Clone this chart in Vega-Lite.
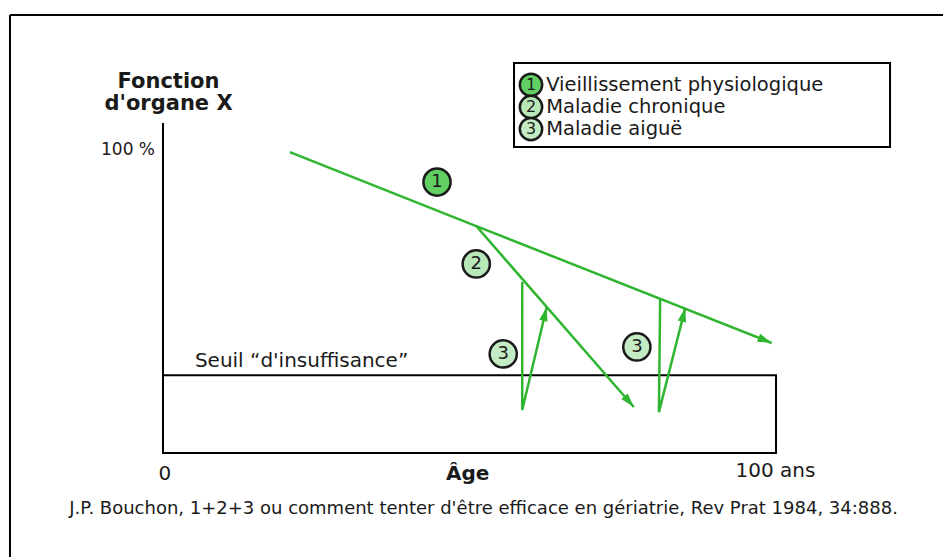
{
  "$schema": "https://vega.github.io/schema/vega-lite/v6.json",
  "width": 943,
  "height": 557,
  "autosize": "none",
  "padding": 0,
  "background": "white",
  "config": {"view": {"stroke": null}, "text": {"font": "DejaVu Sans"}},
  "datasets": {
    "segments": [
      {"part": "frame", "x": -24.96, "y": 144.55, "x2": 127.24, "y2": 144.55},
      {"part": "frame", "x": -24.96, "y": 144.55, "x2": -24.96, "y2": -34.32},
      {"part": "axis", "x": 0, "y": 0, "x2": 0, "y2": 108.9}
    ],
    "boxes": [
      {"part": "seuil", "x": 0, "y": 0, "x2": 100, "y2": 25.7},
      {"part": "legend", "x": 57.26, "y": 101.0, "x2": 118.6, "y2": 128.7}
    ],
    "curves": [
      {"series": "vieillissement", "step": 1, "x": 20.7, "y": 99.3},
      {"series": "vieillissement", "step": 2, "x": 51.1, "y": 74.9},
      {"series": "vieillissement", "step": 3, "x": 99.3, "y": 36.3},
      {"series": "chronique", "step": 1, "x": 51.1, "y": 74.9},
      {"series": "chronique", "step": 2, "x": 76.8, "y": 15.2},
      {"series": "aigue A", "step": 1, "x": 58.6, "y": 56.4},
      {"series": "aigue A", "step": 2, "x": 58.6, "y": 14.2},
      {"series": "aigue A", "step": 3, "x": 62.6, "y": 48.2},
      {"series": "aigue B", "step": 1, "x": 81.1, "y": 50.8},
      {"series": "aigue B", "step": 2, "x": 80.9, "y": 13.5},
      {"series": "aigue B", "step": 3, "x": 85.2, "y": 47.9}
    ],
    "tips": [
      {"series": "vieillissement", "x": 99.3, "y": 36.3},
      {"series": "chronique", "x": 76.8, "y": 15.2},
      {"series": "aigue A", "x": 62.6, "y": 48.2},
      {"series": "aigue B", "x": 85.2, "y": 47.9}
    ],
    "markers": [
      {"where": "chart", "n": "1", "x": 44.7, "y": 89.4},
      {"where": "chart", "n": "2", "x": 51.1, "y": 62.4},
      {"where": "chart", "n": "3", "x": 55.5, "y": 32.7},
      {"where": "chart", "n": "3", "x": 77.3, "y": 35.0},
      {"where": "legend", "n": "1", "x": 60.03, "y": 121.5},
      {"where": "legend", "n": "2", "x": 60.03, "y": 114.2},
      {"where": "legend", "n": "3", "x": 60.03, "y": 106.9}
    ],
    "labels": [
      {"role": "ytitle", "text": "Fonction", "x": 0.9, "y": 122.6},
      {"role": "ytitle", "text": "d'organe X", "x": 0.9, "y": 115.3},
      {"role": "ytick", "text": "100 %", "x": -1.3, "y": 100},
      {"role": "xtick", "text": "0", "x": 0.3, "y": -7.0},
      {"role": "xtick", "text": "100 ans", "x": 99.9, "y": -5.9},
      {"role": "xtitle", "text": "Âge", "x": 49.7, "y": -7.0},
      {"role": "seuil", "text": "Seuil “d'insuffisance”", "x": 5.2, "y": 30.5},
      {"role": "source", "text": "J.P. Bouchon, 1+2+3 ou comment tenter d'être efficace en gériatrie, Rev Prat 1984, 34:888.", "x": 52.3, "y": -18.5},
      {"role": "legend", "text": "Vieillissement physiologique", "x": 62.5, "y": 121.5},
      {"role": "legend", "text": "Maladie chronique", "x": 62.5, "y": 114.2},
      {"role": "legend", "text": "Maladie aiguë", "x": 62.5, "y": 106.9}
    ]
  },
  "encoding": {
    "x": {"field": "x", "type": "quantitative", "scale": {"domain": [-26.59, 127.24], "nice": false, "zero": false}, "axis": null},
    "y": {"field": "y", "type": "quantitative", "scale": {"domain": [-34.32, 149.5], "nice": false, "zero": false}, "axis": null}
  },
  "layer": [
    {
      "data": {"name": "segments"},
      "mark": {"type": "rule", "color": "black", "strokeWidth": 2},
      "encoding": {"x2": {"field": "x2"}, "y2": {"field": "y2"}}
    },
    {
      "data": {"name": "boxes"},
      "mark": {"type": "rect", "fill": "white", "fillOpacity": 0, "stroke": "black", "strokeWidth": 2},
      "encoding": {"x2": {"field": "x2"}, "y2": {"field": "y2"}}
    },
    {
      "data": {"name": "curves"},
      "mark": {"type": "line", "color": "#2fb52f", "strokeWidth": 2.5},
      "encoding": {"detail": {"field": "series"}, "order": {"field": "step"}}
    },
    {
      "data": {"name": "tips"},
      "transform": [{"filter": "datum.series == 'vieillissement'"}],
      "mark": {"type": "point", "shape": "M0,0L0.6,2L-0.6,2Z", "angle": 112, "size": 200, "filled": true, "color": "#2fb52f", "opacity": 1}
    },
    {
      "data": {"name": "tips"},
      "transform": [{"filter": "datum.series == 'chronique'"}],
      "mark": {"type": "point", "shape": "M0,0L0.6,2L-0.6,2Z", "angle": 139, "size": 200, "filled": true, "color": "#2fb52f", "opacity": 1}
    },
    {
      "data": {"name": "tips"},
      "transform": [{"filter": "datum.series == 'aigue A' || datum.series == 'aigue B'"}],
      "mark": {"type": "point", "shape": "M0,0L0.6,2L-0.6,2Z", "angle": 14, "size": 200, "filled": true, "color": "#2fb52f", "opacity": 1}
    },
    {
      "data": {"name": "markers"},
      "transform": [{"filter": "datum.where == 'chart'"}],
      "mark": {"type": "point", "shape": "circle", "size": 740, "filled": true, "stroke": "#1a1a1a", "strokeWidth": 2.5, "opacity": 1},
      "encoding": {
        "fill": {"field": "n", "type": "nominal", "scale": {"domain": ["1", "2", "3"], "range": ["#62cf62", "#b8e8b8", "#c4ecc4"]}, "legend": null}
      }
    },
    {
      "data": {"name": "markers"},
      "transform": [{"filter": "datum.where == 'legend'"}],
      "mark": {"type": "point", "shape": "circle", "size": 500, "filled": true, "stroke": "#1a1a1a", "strokeWidth": 2.5, "opacity": 1},
      "encoding": {
        "fill": {"field": "n", "type": "nominal", "scale": {"domain": ["1", "2", "3"], "range": ["#62cf62", "#b8e8b8", "#c4ecc4"]}, "legend": null}
      }
    },
    {
      "data": {"name": "markers"},
      "transform": [{"filter": "datum.where == 'chart'"}],
      "mark": {"type": "text", "fontSize": 18, "color": "#1a1a1a", "baseline": "middle", "align": "center"},
      "encoding": {"text": {"field": "n"}}
    },
    {
      "data": {"name": "markers"},
      "transform": [{"filter": "datum.where == 'legend'"}],
      "mark": {"type": "text", "fontSize": 16, "color": "#1a1a1a", "baseline": "middle", "align": "center"},
      "encoding": {"text": {"field": "n"}}
    },
    {
      "data": {"name": "labels"},
      "transform": [{"filter": "datum.role == 'ytitle'"}],
      "mark": {"type": "text", "fontSize": 21, "fontWeight": "bold", "color": "#1a1a1a", "baseline": "middle", "align": "center"},
      "encoding": {"text": {"field": "text"}}
    },
    {
      "data": {"name": "labels"},
      "transform": [{"filter": "datum.role == 'xtitle'"}],
      "mark": {"type": "text", "fontSize": 20, "fontWeight": "bold", "color": "#1a1a1a", "baseline": "middle", "align": "center"},
      "encoding": {"text": {"field": "text"}}
    },
    {
      "data": {"name": "labels"},
      "transform": [{"filter": "datum.role == 'ytick'"}],
      "mark": {"type": "text", "fontSize": 17, "color": "#1a1a1a", "baseline": "middle", "align": "right"},
      "encoding": {"text": {"field": "text"}}
    },
    {
      "data": {"name": "labels"},
      "transform": [{"filter": "datum.role == 'xtick'"}],
      "mark": {"type": "text", "fontSize": 20, "color": "#1a1a1a", "baseline": "middle", "align": "center"},
      "encoding": {"text": {"field": "text"}}
    },
    {
      "data": {"name": "labels"},
      "transform": [{"filter": "datum.role == 'seuil'"}],
      "mark": {"type": "text", "fontSize": 20, "color": "#1a1a1a", "baseline": "middle", "align": "left"},
      "encoding": {"text": {"field": "text"}}
    },
    {
      "data": {"name": "labels"},
      "transform": [{"filter": "datum.role == 'legend'"}],
      "mark": {"type": "text", "fontSize": 19.5, "color": "#1a1a1a", "baseline": "middle", "align": "left"},
      "encoding": {"text": {"field": "text"}}
    },
    {
      "data": {"name": "labels"},
      "transform": [{"filter": "datum.role == 'source'"}],
      "mark": {"type": "text", "fontSize": 18, "color": "#1a1a1a", "baseline": "middle", "align": "center"},
      "encoding": {"text": {"field": "text"}}
    }
  ]
}
